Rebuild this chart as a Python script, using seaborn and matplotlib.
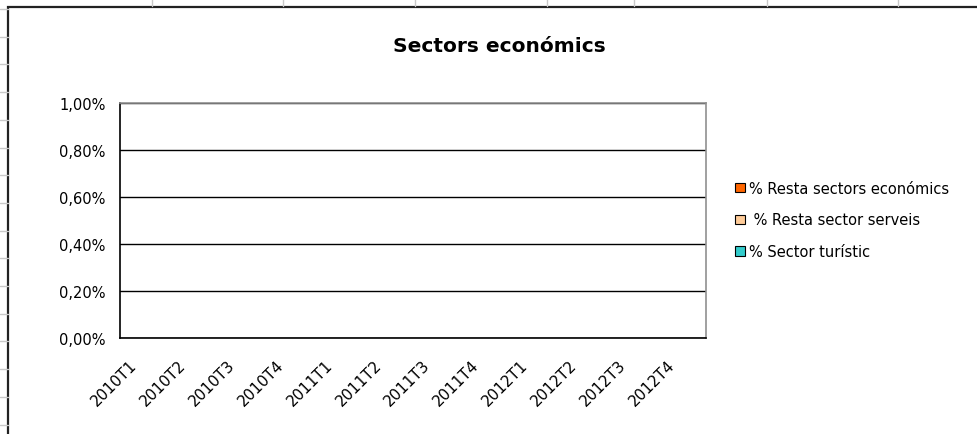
import numpy as np
import pandas as pd
import seaborn as sns
import matplotlib.pyplot as plt
import matplotlib.transforms as mtransforms
from matplotlib.ticker import FuncFormatter, FixedLocator
from matplotlib.patches import Rectangle
from matplotlib.lines import Line2D

# dades (el gràfic original no té valors: tot és zero)
trimestres = ["2010T1", "2010T2", "2010T3", "2010T4",
              "2011T1", "2011T2", "2011T3", "2011T4",
              "2012T1", "2012T2", "2012T3", "2012T4"]
sectors = ["% Resta sectors económics", " % Resta sector serveis", "% Sector turístic"]
resta_sectors = [0, 0, 0, 0, 0, 0, 0, 0, 0, 0, 0, 0]
resta_serveis = [0, 0, 0, 0, 0, 0, 0, 0, 0, 0, 0, 0]
sector_turistic = [0, 0, 0, 0, 0, 0, 0, 0, 0, 0, 0, 0]
colors = ["#FF6600", "#FFCC99", "#33CCCC"]

dades = pd.DataFrame({
    "Trimestre": trimestres * 3,
    "Sector": [sectors[0]] * 12 + [sectors[1]] * 12 + [sectors[2]] * 12,
    "Valor": resta_sectors + resta_serveis + sector_turistic,
})

sns.set_style("white")
plt.rcParams["font.family"] = ["DejaVu Sans"]
plt.rcParams["text.color"] = "black"
plt.rcParams["xtick.color"] = "black"
plt.rcParams["ytick.color"] = "black"

W, H = 977, 435
fig = plt.figure(figsize=(W / 100, H / 100), dpi=100)

# fons de full de càlcul
for y in np.arange(10, 435, 27.7):
    fig.add_artist(Line2D([0, 8 / W], [1 - y / H, 1 - y / H], color="#c8c8c8", lw=1))
for x in [152, 283, 415, 547, 634, 767, 898]:
    fig.add_artist(Line2D([x / W, x / W], [1, 1 - 7 / H], color="#c8c8c8", lw=1))
fig.add_artist(Rectangle((8 / W, -0.05), 1.1, 1 - 7.5 / H + 0.05,
                         transform=fig.transFigure, fill=False,
                         edgecolor="#222222", lw=1.6))

ax = fig.add_axes([120 / W, (H - 339) / H, 586 / W, 235 / H])
sns.barplot(data=dades, x="Trimestre", y="Valor", hue="Sector",
            palette=colors, linewidth=0, ax=ax, legend=False)

ax.set_xlim(-0.5, 11.5)
ax.set_ylim(0, 0.01)
ax.set_xlabel("")
ax.set_ylabel("")

ax.yaxis.set_major_locator(FixedLocator([0, 0.002, 0.004, 0.006, 0.008, 0.01]))
ax.yaxis.set_major_formatter(FuncFormatter(lambda v, p: f"{v * 100:.2f}%".replace(".", ",")))
ax.grid(axis="y", color="black", lw=1)
ax.set_axisbelow(True)

ax.set_xticks(np.arange(-0.5, 12, 1))
ax.set_xticklabels([])
ax.set_xticks(np.arange(12), minor=True)
ax.set_xticklabels(trimestres, minor=True, rotation=45, ha="right",
                   rotation_mode="anchor", fontsize=11)
ax.tick_params(axis="x", which="major", direction="out", length=5, width=1, color="black")
ax.tick_params(axis="x", which="minor", length=0, pad=9)
ax.tick_params(axis="y", direction="inout", length=7, width=1, color="black",
               labelsize=10.5, pad=7)
offset = mtransforms.ScaledTranslation(-15 / 100, -6 / 100, fig.dpi_scale_trans)
for lab in ax.get_xticklabels(minor=True):
    lab.set_transform(lab.get_transform() + offset)

ax.spines["left"].set_color("black")
ax.spines["bottom"].set_color("black")
ax.spines["top"].set_color("#909090")
ax.spines["right"].set_color("#909090")
for s in ax.spines.values():
    s.set_linewidth(1.2)
    s.set_visible(True)

handles = [Rectangle((0, 0), 1, 1, facecolor=c, edgecolor="black", lw=0.8) for c in colors]
fig.legend(handles, sectors, loc="center left", bbox_to_anchor=(728 / W, 1 - 221 / H),
           frameon=False, fontsize=10.5, handlelength=0.65, handleheight=0.65,
           handletextpad=0.3, labelspacing=1.15, borderpad=0)

fig.text(499 / W, 1 - 46 / H, "Sectors económics", ha="center", va="center",
         fontsize=14.5, fontweight="bold")

fig.savefig("out.png", dpi=100)
